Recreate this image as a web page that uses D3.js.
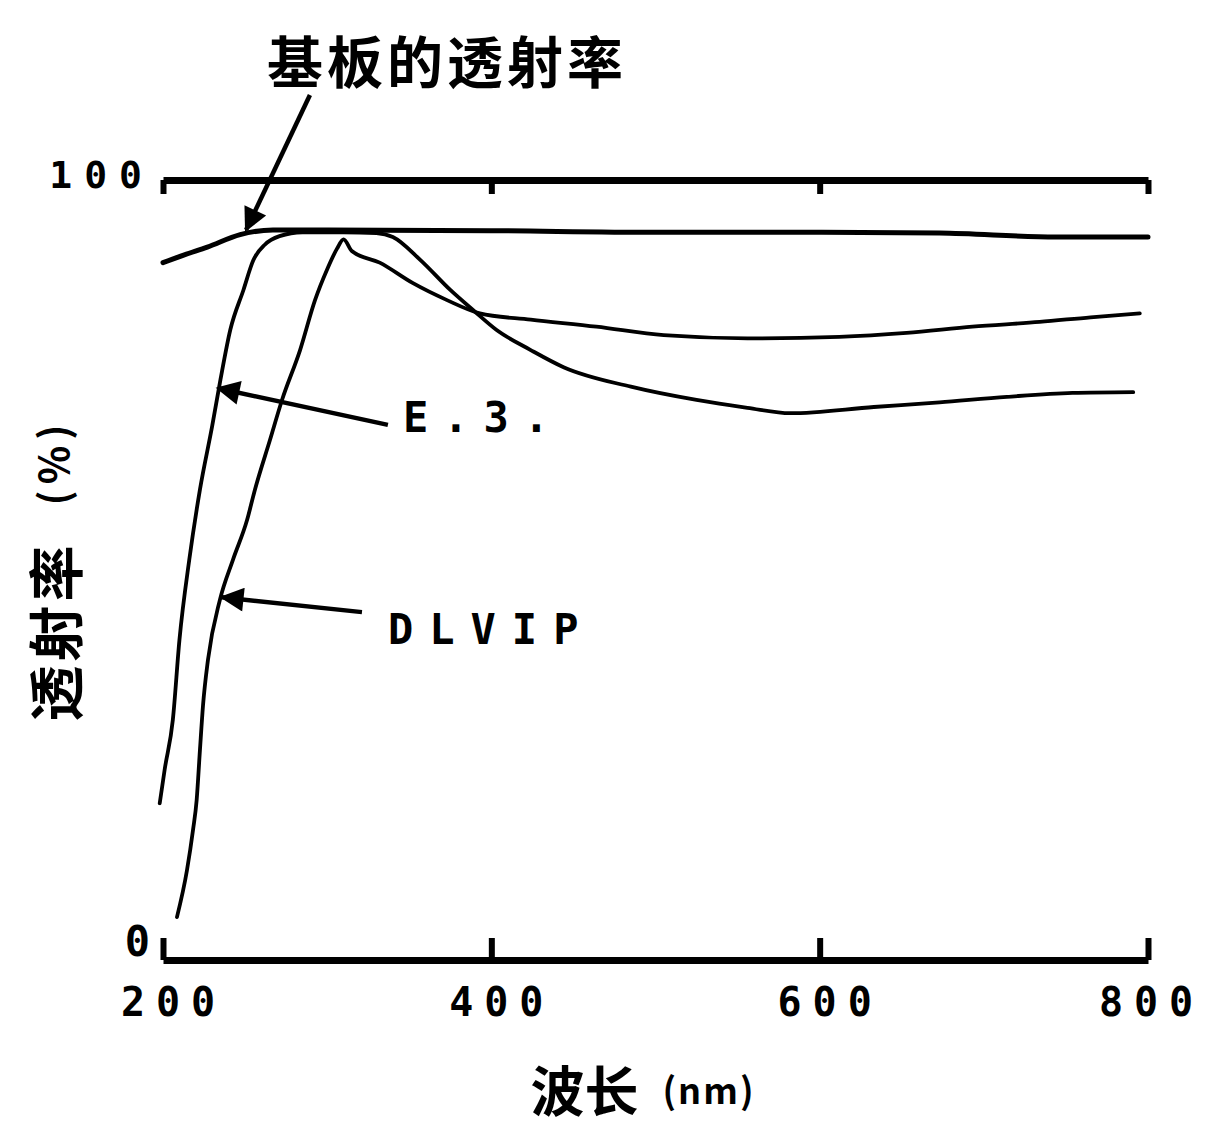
<!DOCTYPE html>
<html>
<head>
<meta charset="utf-8">
<script src="https://cdn.jsdelivr.net/npm/d3@7"></script>
<style>
  html, body { margin: 0; padding: 0; background: #fff; }
  svg { display: block; }
</style>
</head>
<body>
<svg id="chart" width="1210" height="1142"></svg>
<script>
// ---------- data ----------
const xTicks = [200, 400, 600, 800];
const xTickLabels = ["200", "400", "600", "800"];
const yTicks = [0, 100];
const yTickLabels = ["0", "100"];

// substrate transmittance (基板的透射率)
const substrateWl = [200, 213, 227, 247, 267, 300, 400, 500, 551, 600, 673, 744, 800];
const substrateT  = [89.4, 90.4, 91.4, 93.0, 93.6, 93.6, 93.5, 93.3, 93.3, 93.3, 93.2, 92.7, 92.7];

// E.3.
const e3Wl = [198, 201, 206, 210, 216, 222.5, 230, 235, 241, 249, 255, 262, 271, 285, 310, 330, 340, 357, 375, 389, 403, 424, 444, 485, 525, 556, 582, 633, 673, 714, 754, 791];
const e3T  = [20.1, 24.4, 30.8, 41.0, 51.3, 60.3, 68.5, 74.4, 80.8, 85.9, 89.7, 91.7, 92.8, 93.3, 93.3, 93.2, 92.7, 89.7, 85.9, 83.3, 80.8, 78.2, 76.0, 73.5, 71.8, 70.8, 70.1, 70.9, 71.5, 72.2, 72.7, 72.8];

// DLVIP
const dlvipWl = [208.5, 214.6, 218.3, 220.5, 222.5, 224.4, 227.4, 234.7, 242.6, 251.2, 256, 265.2, 272.5, 283.5, 292.6, 299.9, 306, 310, 315, 332, 352, 373, 393, 424, 464, 505, 556, 612, 653, 693, 734, 765, 795];
const dlvipT  = [5.5, 11.5, 16.7, 20.5, 26.9, 32.7, 38.5, 46.2, 51.3, 56.4, 60.3, 66.7, 71.8, 78.2, 84.6, 88.5, 91.2, 92.4, 90.9, 89.4, 86.8, 84.6, 82.9, 82.1, 81.2, 80.1, 79.7, 79.9, 80.4, 81.2, 81.8, 82.4, 82.9];

// ---------- drawing ----------
const svg = d3.select("#chart");
const x = d3.scaleLinear().domain([200, 800]).range([163, 1148]);
const y = d3.scaleLinear().domain([0, 100]).range([960, 180]);

const monoFont = "'DejaVu Sans Mono', 'Liberation Mono', monospace";
const cjkFont = "'Noto Sans CJK SC', 'Noto Sans CJK JP', sans-serif";

// bottom axis (0 %)
const bottomAxisG = svg.append("g")
  .attr("transform", `translate(0,${y(0)})`)
  .call(d3.axisBottom(x).tickValues(xTicks)
    .tickFormat((d, i) => xTickLabels[i])
    .tickSizeInner(-22).tickSizeOuter(0).tickPadding(28));
bottomAxisG.select(".domain").attr("stroke", "#000").attr("stroke-width", 7);
bottomAxisG.selectAll(".tick line").attr("stroke", "#000").attr("stroke-width", 6);
bottomAxisG.selectAll(".tick text")
  .attr("fill", "#000")
  .attr("font-family", monoFont).attr("font-weight", "bold")
  .attr("font-size", 40).attr("letter-spacing", 11)
  .attr("dx", (d) => d === 800 ? 3 : 10);

// top line (100 %)
const topAxisG = svg.append("g")
  .attr("transform", `translate(0,${y(100)})`)
  .call(d3.axisTop(x).tickValues(xTicks).tickFormat("")
    .tickSizeInner(-14).tickSizeOuter(0));
topAxisG.select(".domain").attr("stroke", "#000").attr("stroke-width", 7);
topAxisG.selectAll(".tick line").attr("stroke", "#000").attr("stroke-width", 6);

// y tick labels (no vertical axis line in the reference)
svg.append("g").selectAll("text")
  .data(yTicks)
  .join("text")
  .attr("x", (d) => d === 100 ? 154 : 162)
  .attr("y", (d) => d === 100 ? y(d) - 5 : y(d) - 19)
  .attr("text-anchor", "end")
  .attr("dominant-baseline", "central")
  .attr("font-family", monoFont).attr("font-weight", "bold")
  .attr("font-size", (d) => d === 100 ? 38 : 42)
  .attr("letter-spacing", 12)
  .text((d, i) => yTickLabels[i]);

// curves
const line = d3.line()
  .x((d) => x(d[0]))
  .y((d) => y(d[1]))
  .curve(d3.curveMonotoneX);

const series = [
  { wl: substrateWl, t: substrateT, w: 5 },
  { wl: e3Wl, t: e3T, w: 3.8 },
  { wl: dlvipWl, t: dlvipT, w: 3.8 }
];
svg.append("g").selectAll("path")
  .data(series)
  .join("path")
  .attr("d", (s) => line(s.wl.map((v, i) => [v, s.t[i]])))
  .attr("fill", "none")
  .attr("stroke", "#000")
  .attr("stroke-width", (s) => s.w)
  .attr("stroke-linejoin", "round")
  .attr("stroke-linecap", "round");

// arrow marker
svg.append("defs").append("marker")
  .attr("id", "arrow")
  .attr("viewBox", "0 0 10 10")
  .attr("refX", 9).attr("refY", 5)
  .attr("markerUnits", "userSpaceOnUse")
  .attr("markerWidth", 30).attr("markerHeight", 24)
  .attr("orient", "auto")
  .append("path")
  .attr("d", "M0,0 L10,5 L0,10 Z")
  .attr("fill", "#000");

// annotations (positions in data units: wavelength, %T)
const annotations = [
  { tail: [289.5, 110.9], tip: [250.6, 93.6] },
  { tail: [337, 68.6], tip: [233.5, 73.3] },
  { tail: [321.2, 44.6], tip: [235.9, 46.5] }
];
svg.append("g").selectAll("line")
  .data(annotations)
  .join("line")
  .attr("x1", (a) => x(a.tail[0])).attr("y1", (a) => y(a.tail[1]))
  .attr("x2", (a) => x(a.tip[0])).attr("y2", (a) => y(a.tip[1]))
  .attr("stroke", "#000").attr("stroke-width", 4.5)
  .attr("marker-end", "url(#arrow)");

// annotation labels
svg.append("text")
  .attr("x", 447).attr("y", 58)
  .attr("text-anchor", "middle").attr("dominant-baseline", "central")
  .attr("font-family", cjkFont).attr("font-weight", "bold")
  .attr("font-size", 56).attr("letter-spacing", 4)
  .text("基板的透射率");

svg.append("text")
  .attr("x", 403).attr("y", 432)
  .attr("font-family", monoFont).attr("font-weight", "bold")
  .attr("font-size", 42).attr("letter-spacing", 15)
  .text("E.3.");

svg.append("text")
  .attr("x", 388).attr("y", 644)
  .attr("font-family", monoFont).attr("font-weight", "bold")
  .attr("font-size", 42).attr("letter-spacing", 16)
  .text("DLVIP");

// axis titles
const yTitle = svg.append("text")
  .attr("transform", "translate(52,570) rotate(-90)")
  .attr("text-anchor", "middle").attr("dominant-baseline", "central")
  .attr("font-family", cjkFont).attr("font-weight", "bold");
yTitle.append("tspan").attr("font-size", 56).attr("letter-spacing", 4).text("透射率");
yTitle.append("tspan").attr("font-size", 40).attr("letter-spacing", 6).attr("dx", 36).text("(%)");

const xTitle = svg.append("text")
  .attr("x", 643).attr("y", 1088)
  .attr("text-anchor", "middle").attr("dominant-baseline", "central")
  .attr("font-family", cjkFont).attr("font-weight", "bold");
xTitle.append("tspan").attr("font-size", 54).text("波长");
xTitle.append("tspan").attr("font-size", 36).attr("letter-spacing", 2).attr("dx", 24).text("(nm)");
</script>
</body>
</html>
